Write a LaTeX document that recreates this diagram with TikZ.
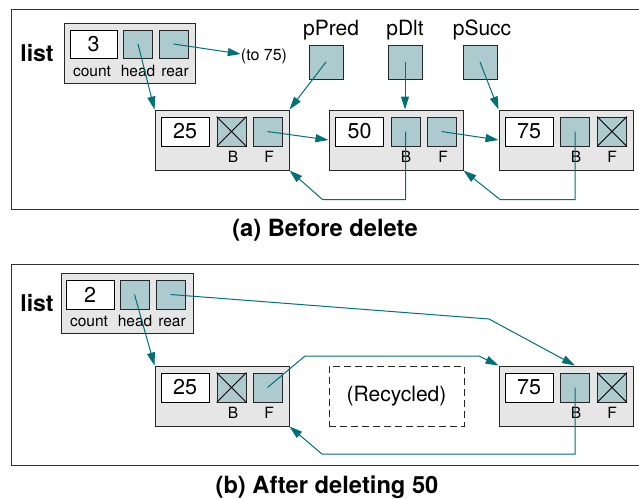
\documentclass[tikz,border=0pt]{standalone}
\usepackage{fontspec}
\setmainfont{TeX Gyre Heros}
\usetikzlibrary{arrows.meta,positioning}
\definecolor{linkteal}{RGB}{0,112,116}
\definecolor{ptrblue}{RGB}{173,203,207}
\definecolor{recgray}{RGB}{230,230,230}

\begin{document}
\begin{tikzpicture}[x=1pt, y=-1pt,
  panel/.style={draw=black!80, line width=1pt},
  record/.style={draw=black!85, fill=recgray, line width=1pt, minimum width=134pt, minimum height=60pt, inner sep=0pt},
  hdr/.style={record, minimum width=131pt},
  datab/.style={draw=black, fill=white, line width=0.9pt, minimum width=48pt, minimum height=29pt, inner sep=0pt, font=\fontsize{21.5}{21.5}\selectfont},
  ptr/.style={draw=black!85, fill=ptrblue, line width=0.9pt, minimum width=29pt, minimum height=29pt, inner sep=0pt},
  extptr/.style={ptr, minimum width=34pt, minimum height=34pt},
  fld/.style={anchor=base, inner sep=0pt, font=\fontsize{15.5}{15.5}\selectfont},
  ptrname/.style={anchor=base, inner sep=0pt, font=\fontsize{21}{21}\selectfont},
  listname/.style={anchor=base, inner sep=0pt, font=\fontsize{23}{23}\selectfont\bfseries},
  caption/.style={anchor=base, inner sep=0pt, font=\fontsize{23.7}{23.7}\selectfont\bfseries},
  freed/.style={draw=black!85, dash pattern=on 7pt off 4pt, line width=1pt, minimum width=135pt, minimum height=60pt, inner sep=0pt, font=\fontsize{21}{21}\selectfont},
  link/.style={-{Triangle[length=13pt,width=8pt]}, linkteal, line width=1pt},
  nullx/.style={black, line width=0.8pt}
]
\useasboundingbox (0,0) rectangle (639,498);

% ---------- (a) before delete
\draw[panel] (11,9) rectangle (645,209);
\node[listname] (aList) at (37,61) {list};
\node[hdr] (aHdr) at (129.5,53) {};
\node[datab, minimum width=47pt, minimum height=28pt] (aCount) at (93.5,44) {3};
\node[ptr, minimum height=28pt] (aHead) at (138,44) {};
\node[ptr, minimum height=28pt] (aRear) at (173.5,44) {};
\node[fld] (aCountLbl) at (92,76) {count};
\node[fld] (aHeadLbl) at (138,76) {head};
\node[fld] (aRearLbl) at (175,76) {rear};
\node[fld, font=\fontsize{16}{16}\selectfont] (to75) at (264,60.5) {(to 75)};

\node[ptrname] (pPredLbl) at (331,35) {pPred};
\node[ptrname] (pDltLbl) at (405,35) {pDlt};
\node[ptrname] (pSuccLbl) at (482,35) {pSucc};
\node[extptr] (pPred) at (326,62) {};
\node[extptr] (pDlt) at (405,62) {};
\node[extptr] (pSucc) at (480,62) {};

\node[record] (a25) at (222,140) {};
\node[datab] (a25D) at (185,131.5) {25};
\node[ptr] (a25B) at (231.5,131.5) {};
\node[ptr] (a25F) at (267.5,131.5) {};
\node[fld] (a25BL) at (233,162.5) {B};
\node[fld] (a25FL) at (269,162.5) {F};
\draw[nullx] (a25B.north west) -- (a25B.south east) (a25B.north east) -- (a25B.south west);

\node[record] (a50) at (396,140) {};
\node[datab] (a50D) at (359.5,131.5) {50};
\node[ptr] (a50B) at (405.5,131.5) {};
\node[ptr] (a50F) at (441.5,131.5) {};
\node[fld] (a50BL) at (406,162.5) {B};
\node[fld] (a50FL) at (443,162.5) {F};

\node[record] (a75) at (566,140) {};
\node[datab] (a75D) at (529,131.5) {75};
\node[ptr] (a75B) at (575,131.5) {};
\node[ptr] (a75F) at (612,131.5) {};
\node[fld] (a75BL) at (576,162.5) {B};
\node[fld] (a75FL) at (612,162.5) {F};
\draw[nullx] (a75F.north west) -- (a75F.south east) (a75F.north east) -- (a75F.south west);

\draw[link] (aHead.center) -- (a25.north west);
\draw[link] (aRear.center) -- (to75.west |- 0,54);
\draw[link] (pPred.center) -- (a25.north east);
\draw[link] (pDlt.center) -- (pDlt.center |- a50.north);
\draw[link] (pSucc.center) -- (a75.north west);
\draw[link] (a25F.center) -- (a50.west);
\draw[link] (a50F.center) -- (a75.west);
\draw[link] (a50B.center) -- ++(0,68) -- ++(-83,0) -- (a25.south east);
\draw[link] (a75B.center) -- ++(0,68) -- ++(-75,0) -- (a50.south east);

\node[caption] (capA) at (325,236.5) {(a) Before delete};

% ---------- (b) after deleting 50
\draw[panel] (11,264) rectangle (645,465);
\node[listname] (bList) at (37,311.5) {list};
\node[hdr, minimum width=132pt] (bHdr) at (127,303) {};
\node[datab] (bCount) at (90,294.5) {2};
\node[ptr] (bHead) at (134.5,294.5) {};
\node[ptr] (bRear) at (170.5,294.5) {};
\node[fld] (bCountLbl) at (89,326) {count};
\node[fld] (bHeadLbl) at (135,326) {head};
\node[fld] (bRearLbl) at (172,326) {rear};

\node[record] (b25) at (222,396) {};
\node[datab] (b25D) at (185,387.5) {25};
\node[ptr] (b25B) at (231.5,387.5) {};
\node[ptr] (b25F) at (267.5,387.5) {};
\node[fld] (b25BL) at (233,418.5) {B};
\node[fld] (b25FL) at (269,418.5) {F};
\draw[nullx] (b25B.north west) -- (b25B.south east) (b25B.north east) -- (b25B.south west);

\node[freed] (recycled) at (396.5,396) {(Recycled)};

\node[record] (b75) at (566,396) {};
\node[datab] (b75D) at (529,387.5) {75};
\node[ptr] (b75B) at (575,387.5) {};
\node[ptr] (b75F) at (612,387.5) {};
\node[fld] (b75BL) at (576,418.5) {B};
\node[fld] (b75FL) at (612,418.5) {F};
\draw[nullx] (b75F.north west) -- (b75F.south east) (b75F.north east) -- (b75F.south west);

\draw[link] (bHead.center) -- (b25.north west);
\draw[link] (bRear.center) -- (489,319) -- (b75B.center |- b75.north);
\draw[link] (b25F.center) -- (305,356) -- (479,356) -- (b75.north west);
\draw[link] (b75B.center) -- ++(0,66.5) -- ++(-253,0) -- (b25.south east);

\node[caption] (capB) at (327,493) {(b) After deleting 50};
\end{tikzpicture}
\end{document}
